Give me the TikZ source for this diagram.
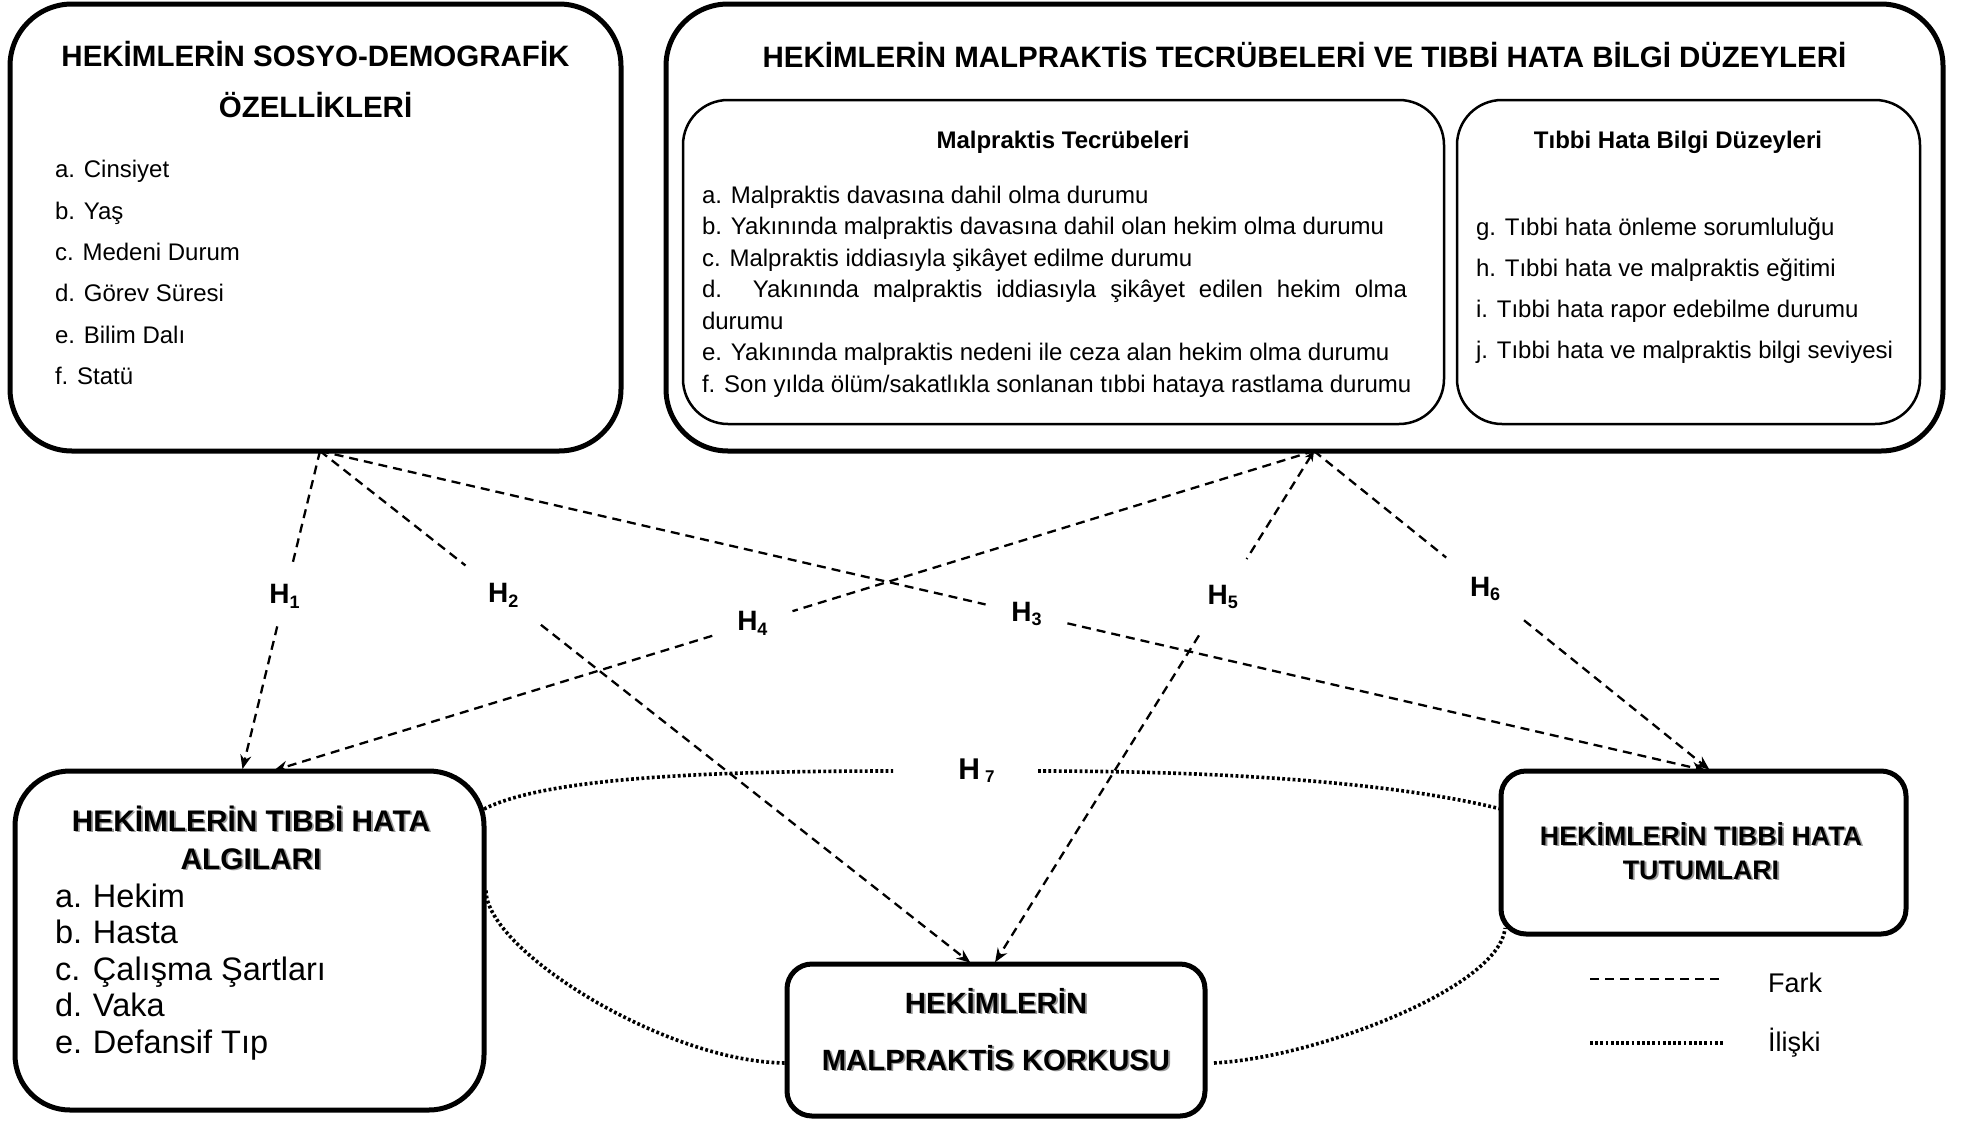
\documentclass[tikz,border=0pt]{standalone}
\usepackage{fontspec}
\setmainfont{Liberation Sans}
\usetikzlibrary{arrows.meta,calc}

% bold heading text with a soft grey drop shadow
\newcommand{\shadowtext}[1]{\makebox[0pt][l]{\hspace{1.8pt}\raisebox{-1.8pt}{\textcolor{black!40}{#1}}}#1}
% hypothesis label with a lowered index
\newcommand{\hyp}[1]{H\raisebox{-0.16em}{\fontsize{18}{18}\selectfont #1}}

\begin{document}
\begin{tikzpicture}[x=1pt,y=-1pt,
  box/.style={draw, line width=5pt, inner sep=0pt, outer sep=0pt},
  innerbox/.style={draw, line width=2.5pt, inner sep=0pt, outer sep=0pt, rounded corners=45pt},
  txt/.style={inner sep=0pt, outer sep=0pt},
  headA/.style={txt, anchor=base, font=\fontsize{29.5}{34}\selectfont\bfseries},
  headB/.style={txt, anchor=base, font=\fontsize{24}{29}\selectfont\bfseries},
  itemA/.style={txt, anchor=base west, font=\fontsize{24}{29}\selectfont},
  itemC/.style={txt, anchor=base west, font=\fontsize{32.5}{38}\selectfont},
  fark/.style={line width=2.3pt, dash pattern=on 9pt off 6pt},
  iliski/.style={line width=3.6pt, dash pattern=on 2.8pt off 2.4pt},
  tip/.style={-{Stealth[length=14pt,width=11pt]}, shorten >=2pt},
  hlab/.style={circle, inner sep=0pt, outer sep=0pt, font=\fontsize{28}{28}\selectfont\bfseries},
]
\fill[white] (0,0) rectangle (1966,1122);
\useasboundingbox (0,0) rectangle (1966,1122);

% ---------- socio-demographic box ----------
\node[box, rounded corners=62pt, minimum width=611pt, minimum height=447pt] (A) at (315.5,227.5) {};
\node[headA] (Ah1) at (315.5,66) {HEKİMLERİN SOSYO-DEMOGRAFİK};
\node[headA] (Ah2) at (315.5,117) {ÖZELLİKLERİ};
\node[itemA] (Aa) at (55,177) {a. Cinsiyet};
\node[itemA] (Ab) at (55,219) {b. Yaş};
\node[itemA] (Ac) at (55,260) {c. Medeni Durum};
\node[itemA] (Ad) at (55,301) {d. Görev Süresi};
\node[itemA] (Ae) at (55,343) {e. Bilim Dalı};
\node[itemA] (Af) at (55,384) {f. Statü};

% ---------- malpractice experience / knowledge box ----------
\node[box, rounded corners=62pt, minimum width=1277pt, minimum height=447pt] (B) at (1304.5,227.5) {};
\node[headA] (Bh) at (1304.5,67) {HEKİMLERİN MALPRAKTİS TECRÜBELERİ VE TIBBİ HATA BİLGİ DÜZEYLERİ};

\node[innerbox, minimum width=761pt, minimum height=324pt] (B1) at (1063.5,262) {};
\node[headB] (B1h) at (1063,148) {Malpraktis Tecrübeleri};
\node[itemA] (B1a) at (702,203) {a. Malpraktis davasına dahil olma durumu};
\node[itemA] (B1b) at (702,234.5) {b. Yakınında malpraktis davasına dahil olan hekim olma durumu};
\node[itemA] (B1c) at (702,266) {c. Malpraktis iddiasıyla şikâyet edilme durumu};
\node[itemA] (B1d) at (702,297.5) {\makebox[705pt][s]{d. Yakınında malpraktis iddiasıyla şikâyet edilen hekim olma}};
\node[itemA] (B1d2) at (702,329) {durumu};
\node[itemA] (B1e) at (702,360.5) {e. Yakınında malpraktis nedeni ile ceza alan hekim olma durumu};
\node[itemA] (B1f) at (702,392) {f. Son yılda ölüm/sakatlıkla sonlanan tıbbi hataya rastlama durumu};

\node[innerbox, minimum width=463pt, minimum height=324pt] (B2) at (1688.5,262) {};
\node[headB] (B2h) at (1678,148) {Tıbbi Hata Bilgi Düzeyleri};
\node[itemA] (B2g) at (1476,235) {g. Tıbbi hata önleme sorumluluğu};
\node[itemA] (B2h2) at (1476,276) {h. Tıbbi hata ve malpraktis eğitimi};
\node[itemA] (B2i) at (1476,317) {i. Tıbbi hata rapor edebilme durumu};
\node[itemA] (B2j) at (1476,358) {j. Tıbbi hata ve malpraktis bilgi seviyesi};

% ---------- perception box ----------
\node[box, rounded corners=55pt, minimum width=469pt, minimum height=339pt] (C) at (249.5,940.5) {};
\node[headA, font=\fontsize{29.8}{34}\selectfont\bfseries] (Ch1) at (251,831) {\shadowtext{HEKİMLERİN TIBBİ HATA}};
\node[headA, font=\fontsize{29.8}{34}\selectfont\bfseries] (Ch2) at (251,869) {\shadowtext{ALGILARI}};
\node[itemC] (Ca) at (55,907) {\makebox[38pt][l]{a.}Hekim};
\node[itemC] (Cb) at (55,943.5) {\makebox[38pt][l]{b.}Hasta};
\node[itemC] (Cc) at (55,980) {\makebox[38pt][l]{c.}Çalışma Şartları};
\node[itemC] (Cd) at (55,1016.5) {\makebox[38pt][l]{d.}Vaka};
\node[itemC] (Ce) at (55,1053) {\makebox[38pt][l]{e.}Defansif Tıp};

% ---------- fear box ----------
\node[box, rounded corners=25pt, minimum width=418pt, minimum height=152pt] (D) at (996,1040) {};
\node[headA, font=\fontsize{29.3}{34}\selectfont\bfseries] (Dh1) at (996,1013) {\shadowtext{HEKİMLERİN}};
\node[headA, font=\fontsize{29.3}{34}\selectfont\bfseries] (Dh2) at (996,1070) {\shadowtext{MALPRAKTİS KORKUSU}};

% ---------- attitude box ----------
\node[box, rounded corners=25pt, minimum width=405pt, minimum height=163pt] (E) at (1703.5,852.5) {};
\node[headA, font=\fontsize{26.8}{32}\selectfont\bfseries] (Eh1) at (1701,845) {\shadowtext{HEKİMLERİN TIBBİ HATA}};
\node[headA, font=\fontsize{26.8}{32}\selectfont\bfseries] (Eh2) at (1701,879) {\shadowtext{TUTUMLARI}};

% ---------- connector end points ----------
\coordinate (Aout) at ($(A.south)+(4.5,0)$);
\coordinate (Bout) at ($(B.south)+(9.5,0)$);
\coordinate (C1) at ($(C.north)+(-7.5,0)$);
\coordinate (C4) at ($(C.north)+(22.5,0)$);
\coordinate (D2) at ($(D.north)+(-24,0)$);
\coordinate (D5) at ($(D.north)+(-2,0)$);
\coordinate (E3) at ($(E.north)+(4.5,0)$);
\coordinate (E6) at ($(E.north)+(7.5,0)$);

% hypothesis labels sitting on their connectors
\path (Aout) -- node[hlab, pos=.454, minimum size=62pt] (h1) {\hyp{1}} (C1);
\path (Aout) -- node[hlab, pos=.281, minimum size=96pt] (h2) {\hyp{2}} (D2);
\path (Aout) -- node[hlab, pos=.509, minimum size=84pt] (h3) {\hyp{3}} (E3);
\path (Bout) -- node[hlab, pos=.539, minimum size=84pt] (h4) {\hyp{4}} (C4);
\path (Bout) -- node[hlab, pos=.285, minimum size=90pt] (h5) {\hyp{5}} (D5);
\path (Bout) -- node[hlab, pos=.431, minimum size=100pt] (h6) {\hyp{6}} (E6);

% difference connectors
\draw[fark] (Aout) -- (h1);  \draw[fark, tip] (h1) -- (C1);
\draw[fark] (Aout) -- (h2);  \draw[fark, tip] (h2) -- (D2);
\draw[fark] (Aout) -- (h3);  \draw[fark, tip] (h3) -- (E3);
\draw[fark] (Bout) -- (h4);  \draw[fark, tip] (h4) -- (C4);
\draw[fark, {Stealth[length=10pt,width=9pt]}-] (Bout) -- (h5);  \draw[fark, tip] (h5) -- (D5);
\draw[fark] (Bout) -- (h6);  \draw[fark, tip] (h6) -- (E6);

% relation connectors
\node[txt, minimum width=145pt, minimum height=30pt, font=\fontsize{30}{30}\selectfont\bfseries] (h7) at (965.5,771)
  {\hspace*{22pt}H\,\raisebox{-0.1em}{\fontsize{17}{17}\selectfont 7}};
\draw[iliski] ($(C.east)+(0,-131.5)$) .. controls +(60,-30) and +(-200,0) .. (h7.west);
\draw[iliski] (h7.east) .. controls +(200,0) and +(-100,-25) .. ($(E.west)+(0,-43.5)$);
\draw[iliski] ($(C.east)+(2,-50)$) .. controls +(0,60) and +(-120,0) .. ($(D.west)+(0,23)$);
\draw[iliski] ($(D.east)+(9,23)$) .. controls +(100,-5) and +(-5,60) .. ($(E.south west)+(4,-6)$);

% ---------- legend ----------
\coordinate (lf1) at (1590,979);
\coordinate (lf2) at (1724,979);
\coordinate (li1) at (1590,1043);
\coordinate (li2) at (1724,1043);
\draw[fark] (lf1) -- (lf2);
\draw[iliski] (li1) -- (li2);
\node[txt, anchor=base west, font=\fontsize{27}{32}\selectfont] (lfark) at (1768,992) {Fark};
\node[txt, anchor=base west, font=\fontsize{27}{32}\selectfont] (liliski) at (1768,1051) {İlişki};
\end{tikzpicture}
\end{document}
